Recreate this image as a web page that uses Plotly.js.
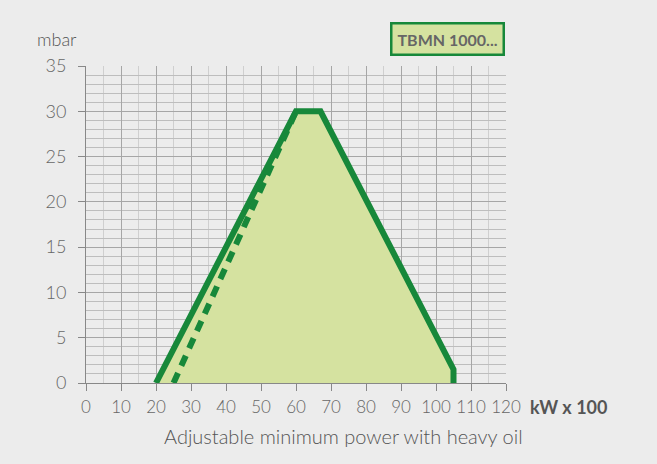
<!DOCTYPE html>
<html>
<head>
<meta charset="utf-8">
<script src="https://cdn.plot.ly/plotly-3.0.1.min.js"></script>
<style>
html,body{margin:0;padding:0;background:#ececec;}
#chart{width:657px;height:464px;}
</style>
</head>
<body>
<div id="chart"></div>
<script>
// Working field boundary (solid) — kW x 100 vs mbar
const fieldX = [20, 60, 67, 105, 105];
const fieldY = [0, 30, 30, 1.5, 0];
// Dashed boundary
const dashX = [25, 60];
const dashY = [0, 30];
const seriesName = "TBMN 1000...";
const xTitle = "Adjustable minimum power with heavy oil";
const xUnit = "kW x 100";
const yUnit = "mbar";
const xTicks = [0, 10, 20, 30, 40, 50, 60, 70, 80, 90, 100, 110, 120];
const yTicks = [0, 5, 10, 15, 20, 25, 30, 35];

const green = "#17883a";
const fillGreen = "#d5e2a0";
const font = "Lato, 'Open Sans', sans-serif";

const traces = [
  {
    x: fieldX, y: fieldY, type: "scatter", mode: "lines",
    fill: "toself", fillcolor: fillGreen,
    line: {color: green, width: 6}, name: seriesName, hoverinfo: "x+y"
  },
  {
    x: dashX, y: dashY, type: "scatter", mode: "lines",
    line: {color: green, width: 6, dash: "11px,8px"}, name: seriesName + " (dashed)", hoverinfo: "x+y"
  }
];

const layout = {
  width: 657, height: 464,
  margin: {l: 86, r: 151, t: 66, b: 81},
  paper_bgcolor: "#ececec",
  plot_bgcolor: "#ececec",
  showlegend: false,
  font: {family: font, color: "#666", size: 16},
  xaxis: {
    range: [0, 120], tickvals: xTicks, ticktext: xTicks.map(String),
    showgrid: true, gridcolor: "#a6a6a6", gridwidth: 1,
    minor: {dtick: 5, showgrid: true, gridcolor: "#cfcfcf", gridwidth: 1},
    showline: true, linecolor: "#888", linewidth: 1,
    ticks: "outside", ticklen: 7, tickcolor: "#888",
    zeroline: false, fixedrange: true, ticklabelstandoff: 2,
    tickfont: {size: 17, color: "#666", weight: 300}
  },
  yaxis: {
    range: [0, 35], tickvals: yTicks, ticktext: yTicks.map(String),
    showgrid: true, gridcolor: "#a6a6a6", gridwidth: 1,
    minor: {dtick: 1, showgrid: true, gridcolor: "#bdbdbd", gridwidth: 1},
    showline: true, linecolor: "#888", linewidth: 1,
    ticks: "outside", ticklen: 7, tickcolor: "#888",
    zeroline: false, fixedrange: true, ticklabelstandoff: 8,
    tickfont: {size: 18, color: "#666", weight: 300}
  },
  annotations: [
    {text: yUnit, xref: "paper", yref: "paper", x: -0.122, y: 1.045, xanchor: "left", yanchor: "bottom",
     showarrow: false, font: {size: 18, color: "#555", weight: 300}},
    {text: "<b>" + xUnit + "</b>", xref: "paper", yref: "paper", x: 1.052, y: -0.035, xanchor: "left", yanchor: "top",
     showarrow: false, font: {size: 18, color: "#555"}},
    {text: xTitle, xref: "paper", yref: "paper", x: 0.612, y: -0.122, xanchor: "center", yanchor: "top",
     showarrow: false, font: {size: 20, color: "#555", weight: 300}},
    {text: "<b>" + seriesName + "</b>", xref: "paper", yref: "paper", x: 0.998, y: 1.03, xanchor: "right", yanchor: "bottom",
     showarrow: false, font: {size: 16, color: "#666"}, bgcolor: fillGreen, bordercolor: green, borderwidth: 2.5, borderpad: 5}
  ]
};

Plotly.newPlot("chart", traces, layout, {displayModeBar: false, staticPlot: true});
</script>
</body>
</html>
